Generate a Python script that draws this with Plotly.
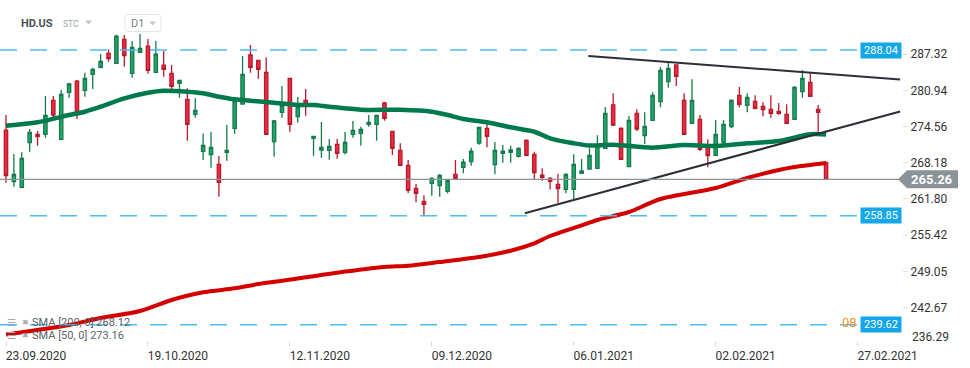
import plotly.graph_objects as go

# ---------------- data ----------------
bar_open = [
    273.94, 264.84, 263.84, 271.71, 273.18, 273.18, 279.17, 272.30, 280.58, 282.57,
    280.93, 283.75, 284.98, 287.45, 285.69, 289.92, 283.93, 287.63, 288.74, 284.10,
    285.39, 283.93, 282.16, 279.34, 276.70, 270.18, 269.60, 267.89, 270.01, 274.24,
    278.52, 287.16, 286.22, 284.10, 271.89, 277.05, 283.04, 276.29, 279.17, 272.47,
    270.42, 270.36, 271.42, 270.01, 273.18, 273.35, 274.94, 274.94, 278.70, 273.71,
    270.36, 267.72, 263.66, 261.37, 264.55, 264.14, 263.14, 266.13, 267.36, 268.36,
    271.65, 274.24, 267.83, 269.83, 270.01, 269.30, 272.12, 269.66, 266.01, 265.43,
    264.37, 263.49, 263.49, 266.31, 267.07, 267.19, 270.70, 278.35, 274.24, 267.48,
    276.88, 272.95, 275.65, 278.94, 282.46, 285.40, 279.17, 275.12, 275.82, 271.01,
    269.48, 271.77, 274.53, 280.05, 278.29, 278.99, 278.11, 277.59, 277.23, 276.71,
    275.82, 280.70, 282.34, 277.59, 268.25]
bar_high = [
    276.58, 269.71, 270.01, 274.12, 273.76, 279.93, 279.93, 280.99, 282.28, 282.75,
    284.04, 284.92, 287.33, 288.15, 290.74, 290.68, 289.62, 290.86, 289.97, 289.62,
    287.86, 285.39, 282.75, 281.28, 279.52, 273.35, 273.59, 269.36, 274.82, 279.10,
    286.98, 288.92, 286.30, 286.74, 275.70, 281.69, 283.10, 279.76, 281.17, 272.90,
    275.35, 272.36, 272.36, 273.59, 275.53, 274.53, 276.58, 276.60, 278.87, 273.80,
    271.59, 268.66, 264.43, 262.43, 265.60, 266.19, 265.10, 268.66, 268.83, 270.83,
    274.50, 275.12, 271.83, 271.30, 271.18, 270.90, 272.30, 270.12, 267.19, 265.60,
    266.25, 266.31, 269.66, 268.83, 270.71, 273.00, 278.00, 280.41, 274.41, 276.41,
    277.59, 277.06, 280.58, 285.04, 285.87, 285.50, 280.41, 282.87, 276.59, 272.30,
    275.71, 275.71, 279.35, 281.52, 280.41, 280.05, 278.82, 280.05, 278.70, 278.47,
    281.70, 284.52, 283.93, 278.35, 268.30]
bar_low = [
    264.66, 263.96, 263.70, 270.12, 271.18, 272.59, 275.70, 272.18, 279.64, 275.88,
    279.81, 281.17, 284.81, 285.98, 285.60, 285.10, 283.16, 287.50, 283.87, 284.00,
    283.34, 280.58, 279.64, 272.06, 276.12, 268.66, 267.30, 262.20, 268.54, 273.30,
    278.40, 284.04, 282.99, 273.10, 269.24, 276.12, 273.65, 275.23, 276.47, 269.42,
    269.07, 268.71, 268.89, 269.65, 272.59, 271.18, 274.53, 272.06, 275.59, 269.54,
    267.60, 262.84, 261.20, 258.79, 262.37, 262.20, 262.78, 265.30, 266.31, 267.66,
    271.36, 270.89, 266.13, 268.19, 268.19, 269.10, 269.35, 265.25, 265.02, 263.49,
    261.14, 262.78, 261.73, 266.20, 267.00, 267.10, 270.60, 274.65, 268.70, 267.40,
    273.77, 271.48, 275.60, 277.94, 281.40, 281.70, 273.10, 275.00, 270.24, 267.37,
    269.40, 271.01, 274.24, 277.94, 277.06, 277.59, 276.35, 276.12, 276.65, 275.00,
    275.70, 279.64, 279.80, 273.65, 265.20]
bar_close = [
    265.89, 266.13, 268.95, 273.53, 272.77, 276.53, 276.58, 280.23, 282.05, 276.88,
    283.04, 284.63, 286.04, 286.51, 290.50, 287.04, 288.51, 288.33, 284.45, 287.33,
    284.63, 281.63, 282.69, 274.94, 277.41, 271.24, 270.89, 264.72, 270.36, 279.05,
    283.75, 285.00, 284.63, 273.18, 275.53, 278.23, 274.94, 278.05, 278.52, 272.83,
    270.89, 271.06, 269.83, 271.77, 273.88, 274.06, 275.29, 276.53, 276.00, 270.71,
    267.72, 263.31, 262.78, 260.85, 265.43, 265.96, 265.07, 265.37, 268.30, 270.24,
    274.41, 272.83, 270.36, 270.24, 270.42, 270.71, 269.48, 266.43, 265.60, 264.90,
    263.61, 266.13, 267.89, 266.72, 269.48, 271.20, 276.88, 274.83, 268.78, 275.65,
    274.12, 274.59, 280.05, 284.46, 284.81, 283.40, 273.18, 279.17, 270.54, 269.42,
    273.18, 274.94, 279.17, 278.47, 279.70, 277.76, 277.53, 276.88, 276.88, 275.12,
    281.46, 283.05, 279.88, 277.06, 265.26]

sma50_idx = [0, 4, 8, 10, 12, 15, 18, 20, 23, 25, 27, 29, 31, 34, 37, 39, 41, 45, 50,
             54, 56, 58, 61, 64, 67, 69, 72, 74, 77, 82, 86, 90, 94, 98, 102, 104]
sma50_val = [274.70, 275.30, 276.59, 277.17, 278.05, 279.53, 280.52, 280.87, 280.69,
             280.41, 279.81, 279.35, 279.11, 278.75, 278.35, 278.35, 278.05, 277.52,
             277.50, 277.17, 276.59, 275.88, 275.30, 274.42, 273.64, 272.48, 271.60,
             271.21, 271.35, 270.83, 271.30, 271.12, 271.60, 272.01, 273.19, 273.16]

sma200_idx = [0, 1, 8, 12, 17, 21, 25, 29, 32, 35, 38, 42, 48, 51, 55, 60, 64, 67, 69,
              73, 75, 79, 83, 90, 94, 98, 100, 104]
sma200_val = [237.90, 238.10, 239.58, 240.82, 242.05, 243.99, 245.35, 246.05, 246.81,
              247.39, 247.99, 248.80, 249.80, 250.03, 250.69, 251.57, 252.68, 253.98,
              255.27, 257.15, 258.09, 259.50, 261.79, 263.72, 265.49, 266.90, 267.42,
              268.12]

trend_upper_x = [73.85, 113.4]
trend_upper_y = [286.98, 282.84]
trend_lower_x = [65.8, 113.4]
trend_lower_y = [259.28, 277.22]

level_values = [288.04, 258.85, 239.62]
last_price = 265.26

x_tick_idx = [0, 18, 36, 54, 72, 90, 108]
x_tick_labels = ["23.09.2020", "19.10.2020", "12.11.2020", "09.12.2020",
                 "06.01.2021", "02.02.2021", "27.02.2021"]
y_tick_vals = [287.32, 280.94, 274.56, 268.18, 261.80, 255.42, 249.05, 242.67]
y_bottom_label = 236.29

legend_rows = ["SMA [200, 0] 268.12", "SMA [50, 0] 273.16"]

# ---------------- styles ----------------
FONT = "Roboto, Arial, sans-serif"
GREEN_FILL, GREEN_LINE = "#21a76b", "#167a4c"
RED_FILL, RED_LINE = "#f02a40", "#b81a2d"
BLUE = "#13a6e8"
DASH_BLUE = "#4dbcf0"
GRAY = "#8a9398"

x_idx = list(range(len(bar_open)))

fig = go.Figure()
fig.add_trace(go.Candlestick(
    x=x_idx, open=bar_open, high=bar_high, low=bar_low, close=bar_close,
    increasing=dict(fillcolor=GREEN_FILL, line=dict(color=GREEN_LINE, width=1.3)),
    decreasing=dict(fillcolor=RED_FILL, line=dict(color=RED_LINE, width=1.3)),
    whiskerwidth=0, hoverinfo="skip", showlegend=False))

fig.add_trace(go.Scatter(x=sma200_idx, y=sma200_val, mode="lines",
                         line=dict(color="#d40000", width=4, shape="spline", smoothing=0.8),
                         hoverinfo="skip", showlegend=False))
fig.add_trace(go.Scatter(x=sma50_idx, y=sma50_val, mode="lines",
                         line=dict(color="#007a4d", width=4.5, shape="spline", smoothing=0.8),
                         hoverinfo="skip", showlegend=False))
for tx, ty in [(trend_upper_x, trend_upper_y), (trend_lower_x, trend_lower_y)]:
    fig.add_trace(go.Scatter(x=tx, y=ty, mode="lines",
                             line=dict(color="#2b3036", width=2),
                             hoverinfo="skip", showlegend=False))

shapes = []
annotations = []

# horizontal dashed levels with blue labels
for v in level_values:
    shapes.append(dict(type="line", xref="paper", yref="y", x0=0, x1=0.951, y0=v, y1=v,
                       line=dict(color=DASH_BLUE, width=1.6, dash="17px,13px")))
annotations.append(dict(text="08", xref="paper", yref="y", x=1, xshift=-43, xanchor="right",
                        y=level_values[2], yshift=2, showarrow=False,
                        font=dict(family=FONT, size=13, color="#f7941d")))
for v in level_values:
    annotations.append(dict(text=f"{v:.2f}", xref="paper", yref="y", x=1, xanchor="right",
                            y=v, yanchor="middle", showarrow=False, bgcolor=BLUE,
                            width=40, height=15, borderpad=0,
                            font=dict(family=FONT, size=11, color="white")))

# last price line + label
shapes.append(dict(type="line", xref="paper", yref="y", x0=0, x1=1, y0=last_price, y1=last_price,
                   line=dict(color=GRAY, width=1.2)))
shapes.append(dict(type="path", xref="paper", yref="y", xsizemode="pixel", ysizemode="pixel",
                   xanchor=1, yanchor=last_price,
                   path="M -4,0 L 5,9 L 56,9 L 56,-9 L 5,-9 Z",
                   fillcolor=GRAY, line=dict(width=0)))
annotations.append(dict(text="<b>" + f"{last_price:.2f}" + "</b>", xref="paper", yref="y",
                        x=1, xanchor="left", xshift=7, y=last_price, yanchor="middle",
                        showarrow=False, font=dict(family=FONT, size=13, color="white")))

# bottom y label (shifted up like the reference)
annotations.append(dict(text=f"{y_bottom_label:.2f}", xref="paper", yref="paper", x=1,
                        xanchor="left", xshift=8, y=0, yanchor="middle", yshift=4,
                        showarrow=False, font=dict(family=FONT, size=12, color="#333")))

# header
annotations.append(dict(text="<b>HD.US</b>", xref="paper", yref="paper", x=0, xshift=19,
                        xanchor="left", y=1, yshift=-23, yanchor="middle", showarrow=False,
                        font=dict(family=FONT, size=11, color="#4b5157")))
annotations.append(dict(text="STC", xref="paper", yref="paper", x=0, xshift=61,
                        xanchor="left", y=1, yshift=-23.5, yanchor="middle", showarrow=False,
                        font=dict(family=FONT, size=8.5, color="#9ba1a7")))
annotations.append(dict(text="D1", xref="paper", yref="paper", x=0, xshift=129,
                        xanchor="left", y=1, yshift=-23.5, yanchor="middle", showarrow=False,
                        font=dict(family=FONT, size=11, color="#7b8087")))
shapes.append(dict(type="path", xref="paper", yref="paper", xsizemode="pixel", ysizemode="pixel",
                   xanchor=0, yanchor=1,
                   path="M 85,-20.5 L 92,-20.5 L 88.5,-24.5 Z",
                   fillcolor="#c2c6ca", line=dict(width=0)))
shapes.append(dict(type="path", xref="paper", yref="paper", xsizemode="pixel", ysizemode="pixel",
                   xanchor=0, yanchor=1,
                   path="M 149,-21.5 L 156,-21.5 L 152.5,-25.5 Z",
                   fillcolor="#c2c6ca", line=dict(width=0)))
shapes.append(dict(type="path", xref="paper", yref="paper", xsizemode="pixel", ysizemode="pixel",
                   xanchor=0, yanchor=1,
                   path="M 128,-14.5 L 158,-14.5 Q 161,-14.5 161,-17.5 L 161,-28.5 "
                        "Q 161,-31.5 158,-31.5 L 128,-31.5 Q 125,-31.5 125,-28.5 "
                        "L 125,-17.5 Q 125,-14.5 128,-14.5 Z",
                   fillcolor="rgba(255,255,255,0)", line=dict(color="#e2e4e6", width=1)))

# indicator legend (bottom-left)
for k, label in enumerate(legend_rows):
    ys = 19 - 13 * k
    annotations.append(dict(text="☰", xref="paper", yref="paper", x=0, xshift=5, xanchor="left",
                            y=0, yshift=ys, yanchor="middle", showarrow=False,
                            font=dict(family="DejaVu Sans", size=10, color="#a3a7ab")))
    annotations.append(dict(text="✖", xref="paper", yref="paper", x=0, xshift=20, xanchor="left",
                            y=0, yshift=ys, yanchor="middle", showarrow=False,
                            font=dict(family="DejaVu Sans", size=8, color="#a3a7ab")))
    annotations.append(dict(text=label, xref="paper", yref="paper", x=0, xshift=30, xanchor="left",
                            y=0, yshift=ys, yanchor="middle", showarrow=False,
                            font=dict(family=FONT, size=11, color="#5c6166")))

fig.update_layout(
    width=970, height=368,
    margin=dict(l=0, r=68, t=0, b=27),
    paper_bgcolor="white", plot_bgcolor="white",
    showlegend=False, boxgap=0.4,
    font=dict(family=FONT, size=12, color="#333"),
    shapes=shapes, annotations=annotations,
    hovermode=False,
)
fig.update_xaxes(range=[-0.761, 113.63], tickmode="array", tickvals=x_tick_idx,
                 ticktext=x_tick_labels, ticks="outside", ticklen=4, tickcolor="#d5d5d5",
                 showgrid=False, zeroline=False, showline=False,
                 rangeslider_visible=False, ticklabelshift=30,
                 tickfont=dict(family=FONT, size=12, color="#333"))
fig.update_yaxes(side="right", range=[236.77, 296.85], tickmode="array",
                 tickvals=y_tick_vals, ticktext=[f"{v:.2f}" for v in y_tick_vals],
                 ticks="outside", ticklen=5, tickcolor="#e0e0e0",
                 showgrid=False, zeroline=False, showline=False,
                 tickfont=dict(family=FONT, size=12, color="#333"))

fig.write_html("out.html", config={"displayModeBar": False},
               post_script="document.body.style.margin='0';document.body.style.padding='0';")
